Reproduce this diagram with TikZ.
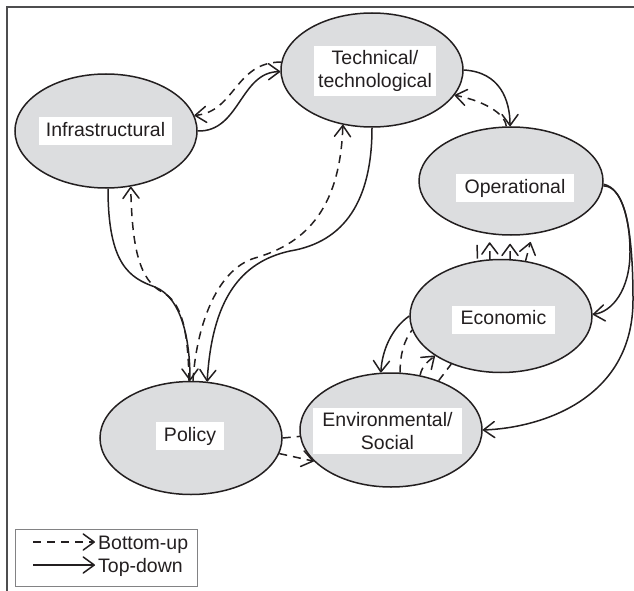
\documentclass[tikz,border=0pt]{standalone}
\usepackage{fontspec}
\setmainfont{Liberation Sans}
\usetikzlibrary{arrows.meta,shapes.geometric}
\definecolor{ink}{HTML}{231F20}
\definecolor{ovalfill}{HTML}{DCDDDF}
\definecolor{framec}{HTML}{4D4D4F}
\begin{document}
\begin{tikzpicture}[x=1pt,y=-1pt,
  oval/.style={ellipse, draw=ink, line width=1.5pt, fill=ovalfill, minimum width=182pt, minimum height=114pt, inner sep=0pt},
  lbl/.style={fill=white, inner xsep=7pt, inner ysep=4.5pt, text height=14.5pt, text depth=4.5pt, font=\fontsize{19.5}{23}\selectfont, text=ink},
  lbltwo/.style={fill=white, inner xsep=7pt, inner ysep=4.5pt, align=center, font=\fontsize{19.5}{23}\selectfont, text=ink},
  conn/.style={draw=ink, line width=1.5pt},
  td/.style={conn, -{Straight Barb[length=11pt,width=16pt,round]}},
  bu/.style={td, dash pattern=on 8pt off 6pt},
  bul/.style={conn, dash pattern=on 8pt off 6pt},
  legtxt/.style={anchor=base west, inner sep=0pt, font=\fontsize{19.5}{23}\selectfont, text=ink}
]
\useasboundingbox (0,0) rectangle (634,591);
% frame
\coordinate (fTL) at (7,7);
\coordinate (fTR) at (634,7);
\coordinate (fBL) at (7,591);
\draw[framec, line width=1.5pt] (fTR) -- (fTL) -- (fBL);

% ovals
\node[oval] (infra) at (106,131) {};
\node[oval] (tech) at (372,70) {};
\node[oval, minimum width=184pt, minimum height=108pt] (oper) at (511,181) {};
\node[oval, minimum height=113pt] (econ) at (501,316) {};
\node[oval] (env) at (391,430) {};
\node[oval, minimum height=113pt] (pol) at (191,438) {};

% connectors
\draw[td] (infra.0) .. controls (240,132) and (240,72) .. (tech.181);
\draw[bu] (tech.175) .. controls (235,62) and (235,112) .. (infra.10);

\draw[td] (infra.272) .. controls (108,265) and (130,278) .. (155,287) .. controls (182,298) and (190,340) .. (pol.91);
\draw[bu] (pol.92) .. controls (188,330) and (182,302) .. (162,292) .. controls (140,280) and (132,250) .. (infra.294);

\draw[td] (tech.270) .. controls (372,200) and (345,242) .. (290,251) .. controls (240,262) and (212,300) .. (pol.74);
\draw[bu] (pol.88) .. controls (196,330) and (215,270) .. (255,258) .. controls (300,245) and (340,215) .. (tech.242);

\draw[td] (tech.0) .. controls (500,72) and (510,100) .. (oper.91);
\draw[bu] (oper.95) .. controls (505,112) and (480,100) .. (tech.343);

\draw[td] (oper.358) .. controls (622,188) and (630,220) .. (630,252) .. controls (630,290) and (612,312) .. (econ.1);
\draw[td] (oper.357) .. controls (626,186) and (633,235) .. (633,300) .. controls (633,400) and (540,428) .. (env.0);

\draw[conn, shorten <=13pt, shorten >=2pt] (oper.236) -- (econ.113);
\draw[bu, shorten >=8pt] (econ.101) -- (oper.248);
\draw[bu, shorten >=8pt] (econ.81) -- (oper.269);
\draw[bu, shorten >=8pt] (econ.66) -- (oper.292);

\draw[td] (econ.180) .. controls (392,328) and (382,350) .. (env.100);
\draw[bul] (env.81) .. controls (400,355) and (404,340) .. (econ.189);
\draw[bu] (env.62) .. controls (422,365) and (430,360) .. (econ.211);
\draw[bul] (env.46) -- (econ.224);

\draw[bul] (pol.0) -- (env.184);
\draw[bu] (pol.350) -- (env.202);

% labels
\node[lbl, minimum width=133pt] (infraT) at (105.5,131) {Infrastructural};
\node[lbltwo, inner xsep=4pt] (techT) at (375,71) {Technical/\\technological};
\node[lbl, minimum width=118pt] (operT) at (515,188) {Operational};
\node[lbl, minimum width=103pt] (econT) at (503.5,319.5) {Economic};
\node[lbltwo, minimum width=149pt] (envT) at (387.5,431) {Environmental/\\Social};
\node[lbl, minimum width=68pt] (polT) at (190,436) {Policy};

% legend
\node[draw=framec!70, line width=0.8pt, minimum width=182pt, minimum height=57pt, inner sep=0pt, anchor=north west] (legend) at (15,529) {};
\coordinate (l1a) at (33,542);
\coordinate (l1b) at (95,542);
\coordinate (l2a) at (33,565);
\coordinate (l2b) at (95,565);
\draw[bu] (l1a) -- (l1b);
\draw[td] (l2a) -- (l2b);
\node[legtxt] (l1t) at (98,549) {Bottom-up};
\node[legtxt] (l2t) at (98,572) {Top-down};
\end{tikzpicture}
\end{document}
